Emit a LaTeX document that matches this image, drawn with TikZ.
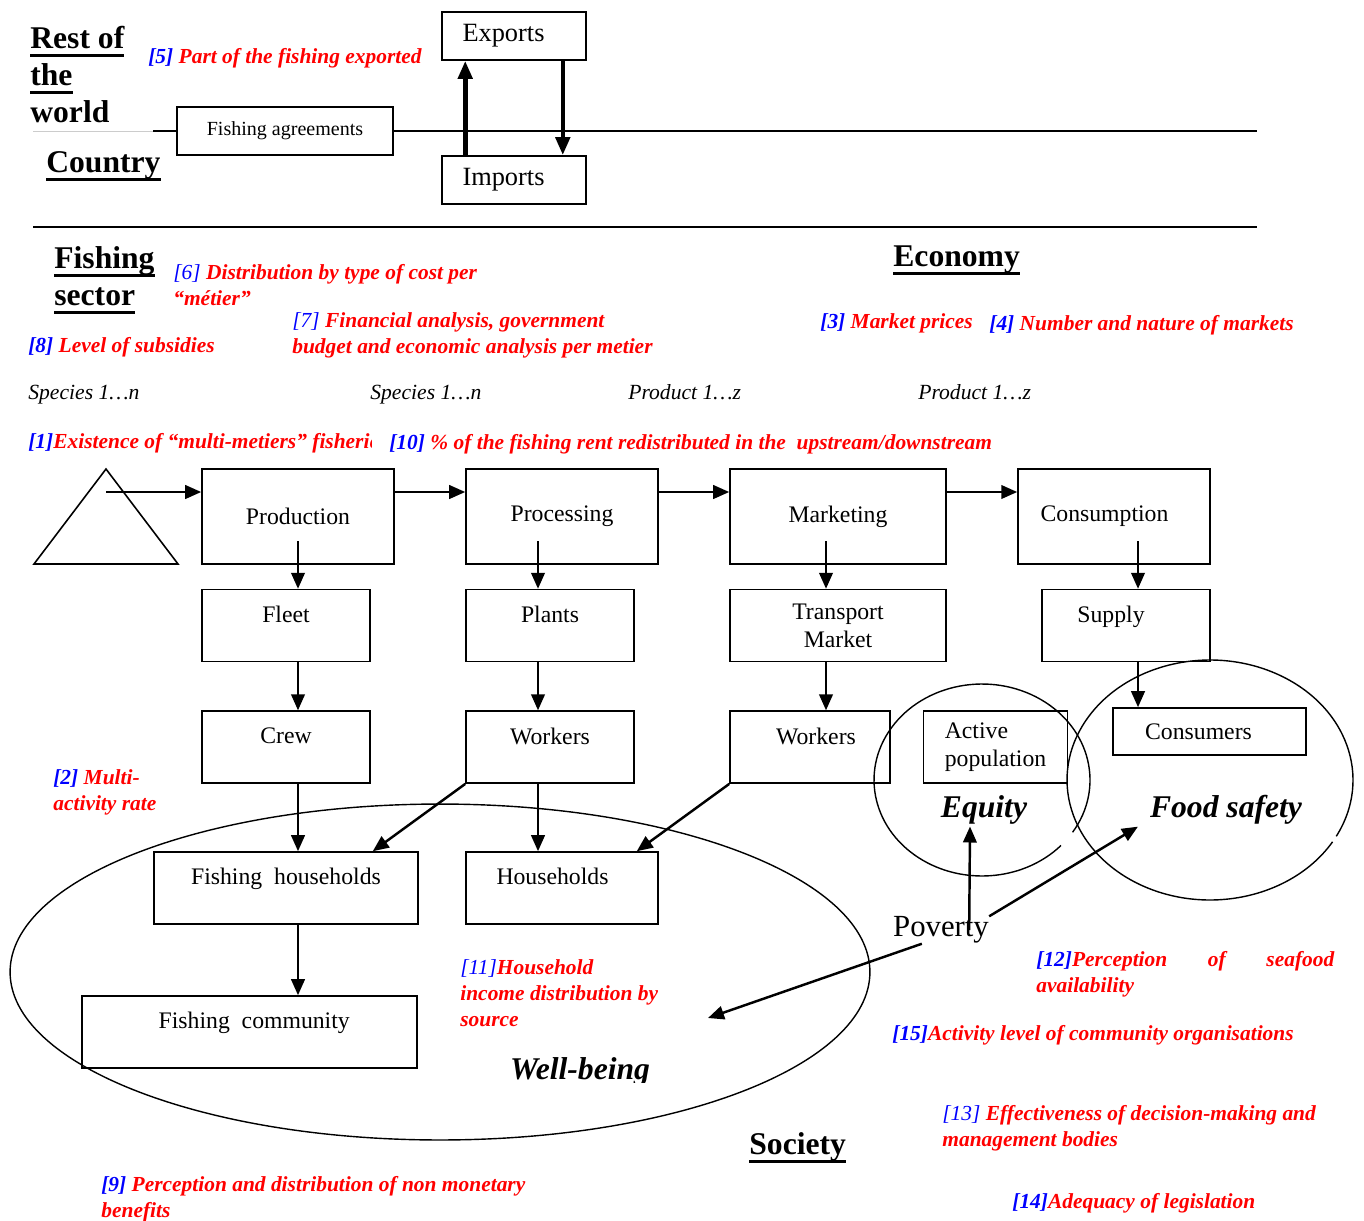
\documentclass[tikz,border=0pt]{standalone}
\usepackage{fontspec}
\setmainfont{Liberation Serif}
\usepackage{tikz}
\usetikzlibrary{arrows.meta, positioning, calc}
\usepackage{xcolor}
\definecolor{indred}{RGB}{255,0,0}
\definecolor{indblue}{RGB}{0,0,255}
\newcommand\blkfont{\fontsize{13.5}{16}\selectfont}
\newcommand\num[1]{\textcolor{indblue}{[#1]}}
\newcommand\numl[1]{\textcolor{indblue}{\mdseries[#1]}}
\newsavebox\hdbox
\newcommand\ulhead[1]{\sbox\hdbox{#1}\mbox{\rlap{\usebox\hdbox}\rule[-5pt]{\wd\hdbox}{1.7pt}}}

\begin{document}
\begin{tikzpicture}[
    x=0.02cm, y=-0.02cm,
    >={Triangle[length=0.32cm, width=0.27cm]},
    blk/.style={draw, line width=0.9pt, inner sep=2pt, font=\blkfont},
    lowblk/.style={blk, minimum height=1.44cm, text depth=0.45cm},
    arr/.style={->, line width=1.4pt},
    bigarr/.style={-{Triangle[length=0.36cm, width=0.28cm]}, line width=2.6pt},
    ind/.style={anchor=base west, inner sep=0pt, align=left, text=indred,
        font=\fontsize{12.2}{14.7}\selectfont\bfseries\itshape},
    spc/.style={anchor=base west, inner sep=0pt, font=\fontsize{12.3}{14}\selectfont\itshape},
    head/.style={anchor=base west, inner sep=0pt, align=left,
        font=\fontsize{18}{21}\selectfont\bfseries},
    bigit/.style={inner sep=1pt, font=\fontsize{18}{21}\selectfont\bfseries\itshape}
]
\useasboundingbox (0,0) rectangle (1364,1220);

% rest of the world / country
\begin{scope}
\clip (0,0) rectangle (200,123);
\node[head] (rw) at (30,122) {\ulhead{Rest of}\\\ulhead{the}\\\ulhead{world}};
\end{scope}
\node[head] (ctry) at (46,172) {\ulhead{Country}};
\node[blk, font=\fontsize{11.4}{14}\selectfont, minimum width=4.32cm, minimum height=0.96cm] (fa) at (285,131) {Fishing agreements};
\node[blk, font=\fontsize{15}{18}\selectfont, minimum width=2.88cm, minimum height=0.96cm] (exp) at (514,36) {Exports\kern0.42cm};
\node[blk, font=\fontsize{15}{18}\selectfont, minimum width=2.88cm, minimum height=0.96cm] (imp) at (514,180) {Imports\kern0.42cm};
\draw[gray!40, line width=0.5pt] (33,131) -- (153,131);
\draw[line width=0.8pt] (153,131) -- (fa.west);
\draw[line width=0.8pt] (fa.east) -- (1257,131);
\draw[line width=0.8pt] (33,227) -- (1257,227);
\draw[bigarr] ($(imp.north west)+(24,0)$) -- ($(exp.south west)+(24,0)$);
\draw[bigarr] ($(exp.south east)+(-24,0)$) -- ($(imp.north east)+(-24,0)$);
\node[ind] (i5) at (148,64) {\num{5} Part of the fishing exported};

% sector headings and indicators
\node[head] (fsec) at (54,305) {\ulhead{Fishing}\\\ulhead{sector}};
\node[head] (eco) at (893,266) {\ulhead{Economy}};
\node[ind] (i6) at (173,305) {\numl{6} Distribution by type of cost per\\“métier”};
\node[ind] (i7) at (292,353) {\numl{7} Financial analysis, government\\budget and economic analysis per metier};
\node[ind] (i8) at (28,352) {\num{8} Level of subsidies};
\node[ind] (i3) at (820,328) {\num{3} Market prices};
\node[ind] (i4) at (989,330) {\num{4} Number and nature of markets};
\node[spc] (sp1) at (28,399) {Species 1…n};
\node[spc] (sp2) at (370,399) {Species 1…n};
\node[spc] (pr1) at (628,399) {Product 1…z};
\node[spc] (pr2) at (918,399) {Product 1…z};
\begin{scope}
\clip (0,425) rectangle (371,465);
\node[ind] (i1) at (28,448) {\num{1}Existence of “multi-metiers” fisheries};
\end{scope}
\node[ind] (i10) at (389,449) {\num{10} \% of the fishing rent redistributed in the\ \ upstream/downstream};

% chain
\draw[line width=0.9pt] (34,564) -- (106,469) -- (178,564) -- cycle;
\coordinate (stock) at (106,492);
\node[blk, minimum width=3.84cm, minimum height=1.9cm] (prod) at (298,516.5) {Production};
\node[blk, minimum width=3.84cm, minimum height=1.9cm] (proc) at (562,516.5) {Processing};
\node[blk, minimum width=4.32cm, minimum height=1.9cm] (mkt) at (838,516.5) {Marketing};
\node[blk, minimum width=3.84cm, minimum height=1.9cm] (cons) at (1114,516.5) {Consumption\kern0.38cm};

\node[lowblk, minimum width=3.36cm, below right=0.48cm and 0cm of prod.south west] (fleet) {Fleet};
\node[lowblk, minimum width=3.36cm, below right=0.48cm and 0cm of proc.south west] (plants) {Plants};
\node[blk, minimum width=4.32cm, minimum height=1.44cm, align=center, below right=0.48cm and 0cm of mkt.south west] (trans) {Transport\\Market};
\node[lowblk, minimum width=3.36cm, below left=0.48cm and 0cm of cons.south east] (supply) {Supply\kern0.6cm};

\node[lowblk, minimum width=3.36cm, below right=0.96cm and 0cm of fleet.south west] (crew) {Crew};
\node[lowblk, minimum width=3.36cm, below right=0.96cm and 0cm of plants.south west] (wk1) {Workers};
\node[lowblk, minimum width=3.2cm, below right=0.96cm and 0cm of trans.south west] (wk2) {\kern0.24cm Workers};
\node[blk, minimum width=2.88cm, minimum height=1.44cm, align=left, right=0.64cm of wk2] (actp) {Active\\population};
\node[blk, minimum width=3.86cm, minimum height=0.94cm] (consr) at (1209.5,731.5) {Consumers\kern0.44cm};

\node[lowblk, minimum width=5.28cm] (fh) at (286,888) {Fishing\ \ households};
\node[lowblk, minimum width=3.84cm] (hh) at (562,888) {Households\kern0.38cm};
\node[lowblk, minimum width=6.7cm] (fc) at (249.5,1032) {\kern0.19cm Fishing\ \ community};

\coordinate (r1) at (0,492);
\draw[arr] (stock) -- (prod.west |- r1);
\draw[arr] (prod.east |- r1) -- (proc.west |- r1);
\draw[arr] (proc.east |- r1) -- (mkt.west |- r1);
\draw[arr] (mkt.east |- r1) -- (cons.west |- r1);

\coordinate (c1) at (298,541);
\coordinate (c2) at (538,541);
\coordinate (c3) at (826,541);
\coordinate (c4) at (1138,541);
\draw[arr] (c1) -- (c1 |- fleet.north);
\draw[arr] (c1 |- fleet.south) -- (c1 |- crew.north);
\draw[arr] (c1 |- crew.south) -- (c1 |- fh.north);
\draw[arr] (c1 |- fh.south) -- (c1 |- fc.north);
\draw[arr] (c2) -- (c2 |- plants.north);
\draw[arr] (c2 |- plants.south) -- (c2 |- wk1.north);
\draw[arr] (c2 |- wk1.south) -- (c2 |- hh.north);
\draw[arr] (c3) -- (c3 |- trans.north);
\draw[arr] (c3 |- trans.south) -- (c3 |- wk2.north);
\draw[arr] (c4) -- (c4 |- supply.north);
\draw[arr] (c4 |- supply.south) -- (c4 |- consr.north);
\draw[arr] (wk1.south west) -- ($(fh.north east)+(-46,0)$);
\draw[arr] (wk2.south west) -- ($(hh.north east)+(-22,0)$);

% society
\draw[line width=0.8pt] (440,972) ellipse [x radius=8.6cm, y radius=3.36cm];
\draw[line width=0.8pt] ([shift={(-33:2.16cm and 1.92cm)}]982,780) arc[start angle=-33, end angle=317, x radius=2.16cm, y radius=1.92cm];
\draw[line width=0.8pt] ([shift={(-28:2.86cm and 2.4cm)}]1210,780) arc[start angle=-28, end angle=329, x radius=2.86cm, y radius=2.4cm];
\begin{scope}
\clip (480,1040) rectangle (700,1082);
\node[bigit] (wb) at (580,1072) {Well-being};
\end{scope}
\node[bigit] (eqt) at (984,810) {Equity};
\node[bigit] (fst) at (1226,810) {Food safety};
\node[inner sep=0pt, font=\fontsize{17.5}{20}\selectfont] (pov) at (941,930) {Poverty};
\coordinate (wbpt) at (708,1018);
\draw[arr] ($(pov.east)+(-20,0)$) -- ($(eqt.south)+(-14,0)$);
\draw[arr] (pov.north east) -- ($(fst.south west)+(-10,0)$);
\draw[arr] ($(pov.south west)+(29,0)$) -- (wbpt);
\node[head] (soc) at (749,1154) {\ulhead{Society}};

\node[ind] (i2) at (53,810) {\num{2} Multi-\\activity rate};
\node[ind] (i11) at (460,1026) {\numl{11}Household\\income distribution by\\source};
\node[ind] (i12) at (1036,992) {\makebox[5.96cm][s]{\num{12}Perception of seafood}\\availability};
\node[ind] (i15) at (892,1040) {\num{15}Activity level of community organisations};
\node[ind] (i13) at (942,1146) {\numl{13} Effectiveness of decision-making and\\management bodies};
\node[ind] (i14) at (1012,1208) {\num{14}Adequacy of legislation};
\node[ind] (i9) at (101,1217) {\num{9} Perception and distribution of non monetary\\benefits};
\end{tikzpicture}
\end{document}
